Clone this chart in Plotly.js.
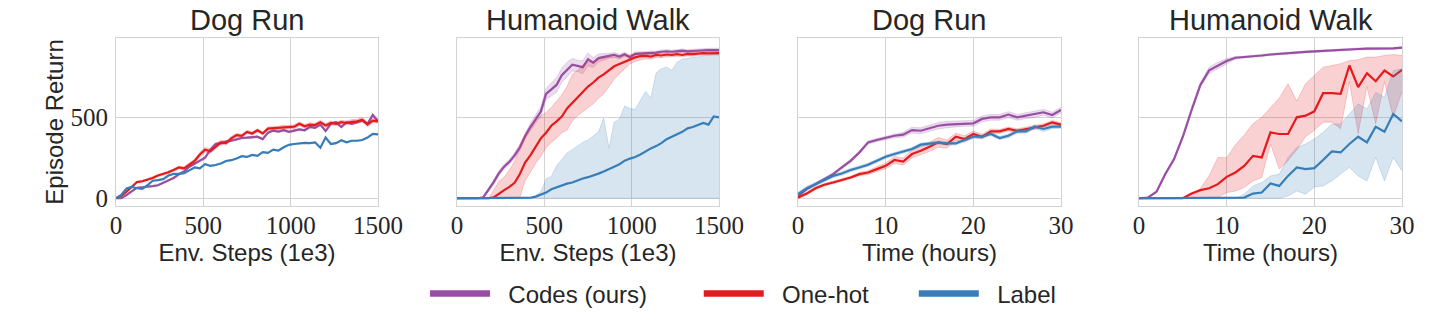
<!DOCTYPE html>
<html><head><meta charset="utf-8">
<script src="https://cdn.plot.ly/plotly-3.0.1.min.js"></script>
<style>html,body{margin:0;padding:0;background:#fff}#chart{width:1446px;height:317px}</style>
</head><body><div id="chart"></div>
<script>
// ---------- categories / axes ----------
const panelTitles = ['Dog Run', 'Humanoid Walk', 'Dog Run', 'Humanoid Walk'];
const xTitles = ['Env. Steps (1e3)', 'Env. Steps (1e3)', 'Time (hours)', 'Time (hours)'];
const seriesNames = ['Codes (ours)', 'One-hot', 'Label'];
const yTickVals = [0, 500];
const stepTicks = [0, 500, 1000, 1500];
const hourTicks = [0, 10, 20, 30];

const steps = [0,30,60,90,120,150,180,210,240,270,300,330,360,390,420,450,480,510,540,570,600,630,660,690,720,750,780,810,840,870,900,930,960,990,1020,1050,1080,1110,1140,1170,1200,1230,1260,1290,1320,1350,1380,1410,1440,1470,1500];
const hours = [0,1,2,3,4,5,6,7,8,9,10,11,12,13,14,15,16,17,18,19,20,21,22,23,24,25,26,27,28,29,30];

// ---------- Panel 1: Dog Run vs env steps ----------
const p1Codes  = [0,0,20,45,65,68,70,75,80,95,110,125,148,165,195,215,235,250,300,335,340,350,355,365,372,374,376,380,365,405,418,412,420,410,418,425,420,440,435,455,415,460,470,440,470,460,470,480,460,515,475];
const p1CodesSd = [0,2,3,3,3,3,3,3,4,4,4,4,4,5,5,6,6,8,8,8,8,8,6,6,6,6,6,6,6,6,6,6,6,6,6,6,6,6,6,6,6,6,6,6,6,6,6,6,6,8,8];
const p1OneHot = [0,15,40,70,100,105,115,125,140,150,160,175,190,185,210,230,270,300,290,320,345,340,370,390,385,410,400,420,400,430,432,435,440,438,442,460,445,455,452,470,450,465,460,470,465,472,475,485,455,480,475];
const p1OneHotSd = [0,3,4,5,5,5,6,6,6,7,8,8,8,10,10,12,14,15,14,14,14,12,12,12,10,10,10,10,10,10,10,10,12,12,12,12,12,12,12,12,12,12,12,12,12,14,14,14,14,12,12];
const p1Label  = [0,20,60,70,62,58,80,108,112,118,140,150,150,155,172,190,185,210,200,205,215,230,235,245,260,255,268,262,285,280,300,295,315,330,335,338,342,340,345,312,375,335,340,358,345,355,355,360,375,398,395];
const p1LabelSd = [0,3,3,3,3,3,3,3,3,3,3,3,3,3,3,3,3,3,3,3,3,3,3,3,3,3,3,3,3,3,3,3,3,3,3,3,3,3,3,3,3,3,3,3,3,3,3,3,3,3,3];

// ---------- Panel 2: Humanoid Walk vs env steps ----------
const p2Codes  = [0,0,0,0,0,5,50,100,155,195,225,265,315,385,440,490,535,645,672,700,760,795,825,818,810,858,838,866,875,880,885,875,890,872,892,893,895,898,900,905,908,905,910,912,908,910,915,918,916,915,915];
const p2CodesSd = [0,0,0,0,0,5,10,15,15,15,15,18,20,20,25,25,30,35,40,45,45,45,40,35,40,40,30,25,20,15,15,15,12,12,12,12,10,10,10,10,10,10,10,10,10,10,10,10,10,12,12];
const p2OneHot = [0,0,0,0,0,0,0,5,30,50,70,95,150,220,265,320,370,405,448,475,505,555,590,620,655,690,715,745,765,790,815,830,845,860,870,878,880,875,885,882,888,885,890,885,892,890,895,897,895,897,897];
const p2OneHotLo = [0,0,0,0,0,0,0,0,0,0,0,0,5,110,160,215,260,312,345,370,405,420,475,510,535,560,583,618,645,690,735,768,800,830,845,855,860,860,870,868,875,872,878,872,880,878,883,885,883,885,885];
const p2OneHotHi = [0,0,0,0,0,0,0,50,105,130,175,230,305,385,430,480,510,530,560,600,640,690,765,790,820,845,835,858,868,872,872,868,880,885,890,893,895,890,897,895,900,898,902,900,905,903,907,908,907,908,908];
const p2Label  = [0,0,0,0,0,0,0,0,0,0,0,0,0,0,3,10,22,35,55,68,78,90,97,112,122,130,140,152,165,178,195,210,232,245,255,270,290,308,322,340,365,382,395,410,432,440,452,465,455,505,500];
const p2LabelLo = [0,0,0,0,0,0,0,0,0,0,0,0,0,0,0,0,0,0,0,0,0,0,0,0,0,0,0,0,0,0,0,0,0,0,0,0,0,0,0,0,0,0,0,0,0,0,0,0,0,0,0];
const p2LabelHi = [0,0,0,0,0,0,0,0,0,0,0,0,0,0,5,15,40,120,135,200,240,280,300,325,345,360,385,410,495,310,470,490,570,555,548,600,660,620,775,800,810,790,840,860,865,872,875,880,885,888,893];

// ---------- Panel 3: Dog Run vs hours ----------
const p3Codes  = [14,56,87,118,149,190,231,283,345,360,372,386,393,421,417,432,448,455,459,463,463,490,500,500,517,500,510,517,531,514,545];
const p3CodesSd = [8,8,8,8,8,8,10,10,10,10,10,12,15,18,18,20,20,20,18,18,18,18,18,18,18,18,18,18,18,18,18];
const p3OneHot = [4,29,62,83,97,112,128,149,159,180,200,236,227,273,293,318,345,335,380,366,397,380,413,413,428,417,428,438,448,469,455];
const p3OneHotSd = [8,8,8,8,8,8,8,10,12,15,18,22,22,25,25,28,30,25,22,20,18,15,15,12,12,12,12,12,12,12,12];
const p3Label  = [25,62,87,112,138,153,174,190,207,231,256,273,289,304,331,339,343,339,339,360,380,380,397,372,386,413,413,442,428,442,442];
const p3LabelSd = [12,12,12,10,10,10,10,10,10,10,10,10,10,10,10,10,10,10,10,10,10,10,10,10,12,12,12,12,15,12,10];

// ---------- Panel 4: Humanoid Walk vs hours ----------
const p4Codes  = [0,4,40,150,242,380,545,700,790,820,848,868,872,875,882,888,893,896,901,904,907,910,917,917,921,922,924,924,924,926,930];
const p4CodesSd = [0,2,5,8,10,12,15,15,20,20,15,8,6,6,6,6,6,6,6,6,6,6,6,6,6,6,6,6,6,6,6];
const p4OneHot = [0,0,0,0,0,0,29,50,62,87,132,159,200,262,252,407,397,397,500,510,537,649,649,645,820,686,773,723,789,752,793];
const p4OneHotLo = [0,0,0,0,0,0,0,0,0,4,35,45,66,107,128,335,180,231,300,380,420,470,470,430,720,400,690,460,720,500,660];
const p4OneHotHi = [0,0,0,0,0,0,20,60,140,252,250,330,390,460,500,560,620,707,600,707,758,810,820,831,851,855,872,872,882,888,882];
const p4Label  = [0,0,0,0,0,0,0,0,0,0,0,0,4,29,35,91,76,138,190,180,186,236,289,283,335,380,345,442,411,521,475];
const p4LabelLo = [0,0,0,0,0,0,0,0,0,0,0,0,0,0,0,0,0,14,45,25,70,76,107,149,190,138,107,252,107,252,169];
const p4LabelHi = [0,0,0,0,0,0,0,0,0,0,0,0,25,76,97,138,149,252,314,335,366,407,459,459,521,583,552,655,624,789,800];

// ---------- styling ----------
const colors = ['#984ea3', '#e41a1c', '#377eb8'];
const rgbs = ['152,78,163', '228,26,28', '55,126,184'];
const textColor = '#262626';
const gridColor = '#d3d3d3';
const sansFont = "'Liberation Sans', Arial, sans-serif";
const serifFont = "'Liberation Serif', 'DejaVu Serif', serif";

const traces = [];
function addSeries(xa, ya, x, mean, lo, hi, k) {
  traces.push({x: x, y: lo, xaxis: xa, yaxis: ya, type: 'scatter', mode: 'lines',
    line: {width: 0.8, color: 'rgba(' + rgbs[k] + ',0.25)'}, showlegend: false, hoverinfo: 'skip'});
  traces.push({x: x, y: hi, xaxis: xa, yaxis: ya, type: 'scatter', mode: 'lines', fill: 'tonexty',
    fillcolor: 'rgba(' + rgbs[k] + ',0.2)',
    line: {width: 0.8, color: 'rgba(' + rgbs[k] + ',0.25)'}, showlegend: false, hoverinfo: 'skip'});
  traces.push({x: x, y: mean, xaxis: xa, yaxis: ya, type: 'scatter', mode: 'lines',
    line: {width: 2.2, color: colors[k]}, name: seriesNames[k], showlegend: false});
}
function sub(a, b) { return a.map((v, i) => v - b[i]); }
function add(a, b) { return a.map((v, i) => v + b[i]); }

addSeries('x', 'y', steps, p1Codes, sub(p1Codes, p1CodesSd), add(p1Codes, p1CodesSd), 0);
addSeries('x', 'y', steps, p1OneHot, sub(p1OneHot, p1OneHotSd), add(p1OneHot, p1OneHotSd), 1);
addSeries('x', 'y', steps, p1Label, sub(p1Label, p1LabelSd), add(p1Label, p1LabelSd), 2);

addSeries('x2', 'y2', steps, p2Codes, sub(p2Codes, p2CodesSd), add(p2Codes, p2CodesSd), 0);
addSeries('x2', 'y2', steps, p2OneHot, p2OneHotLo, p2OneHotHi, 1);
addSeries('x2', 'y2', steps, p2Label, p2LabelLo, p2LabelHi, 2);

addSeries('x3', 'y3', hours, p3Codes, sub(p3Codes, p3CodesSd), add(p3Codes, p3CodesSd), 0);
addSeries('x3', 'y3', hours, p3OneHot, sub(p3OneHot, p3OneHotSd), add(p3OneHot, p3OneHotSd), 1);
addSeries('x3', 'y3', hours, p3Label, sub(p3Label, p3LabelSd), add(p3Label, p3LabelSd), 2);

addSeries('x4', 'y4', hours, p4Codes, sub(p4Codes, p4CodesSd), add(p4Codes, p4CodesSd), 0);
addSeries('x4', 'y4', hours, p4OneHot, p4OneHotLo, p4OneHotHi, 1);
addSeries('x4', 'y4', hours, p4Label, p4LabelLo, p4LabelHi, 2);

// legend entries (thick lines, no data drawn)
const nb = '\u00a0';
const legendPad = [nb.repeat(7), nb.repeat(6), ''];
for (let k = 0; k < 3; k++) {
  traces.push({x: [null], y: [null], xaxis: 'x', yaxis: 'y', type: 'scatter', mode: 'lines',
    line: {width: 6.5, color: colors[k]}, name: nb + nb + seriesNames[k] + legendPad[k],
    showlegend: true, hoverinfo: 'skip'});
}

const W = 1446, H = 317;
const MB = 40;               // bottom margin holds the legend so it never pushes the plots
const PH = H - MB;           // height of the paper area
const py = p => (PH - p) / PH;   // pixel row (from top) -> paper y
const xDomains = [[116, 378], [457, 719], [798, 1061], [1139, 1402]].map(d => [d[0] / W, d[1] / W]);
const yDomain = [py(206), py(38)];

const layout = {
  width: W, height: H,
  margin: {l: 0, r: 0, t: 0, b: MB, pad: 0},
  paper_bgcolor: '#ffffff', plot_bgcolor: '#ffffff',
  font: {family: sansFont, color: textColor},
  showlegend: true,
  legend: {orientation: 'h', x: 425 / W, xanchor: 'left', y: py(316.5), yanchor: 'bottom',
    font: {family: sansFont, size: 24, color: textColor}, itemwidth: 60,
    bgcolor: 'rgba(0,0,0,0)', borderwidth: 0, traceorder: 'normal'},
  annotations: [],
};

for (let i = 0; i < 4; i++) {
  const sfx = i === 0 ? '' : String(i + 1);
  const isSteps = i < 2;
  layout['xaxis' + sfx] = {
    domain: xDomains[i], anchor: 'y' + sfx,
    range: isSteps ? [0, 1500] : [0, 30],
    tickmode: 'array', tickvals: isSteps ? stepTicks : hourTicks,
    ticktext: (isSteps ? stepTicks : hourTicks).map(String),
    showgrid: true, gridcolor: gridColor, gridwidth: 1,
    showline: true, linecolor: gridColor, linewidth: 1, mirror: true,
    zeroline: false, ticks: '', ticklabelstandoff: -3,
    tickfont: {family: serifFont, size: 25, color: textColor},
    title: {text: xTitles[i], font: {family: sansFont, size: 24, color: textColor}, standoff: 6},
    fixedrange: true,
  };
  layout['yaxis' + sfx] = {
    domain: yDomain, anchor: 'x' + sfx,
    range: [-48, 990],
    tickmode: 'array', tickvals: yTickVals, ticktext: yTickVals.map(String),
    showticklabels: i === 0,
    showgrid: true, gridcolor: gridColor, gridwidth: 1,
    showline: true, linecolor: gridColor, linewidth: 1, mirror: true,
    zeroline: false, ticks: '', ticklabelstandoff: 2,
    tickfont: {family: serifFont, size: 25, color: textColor},
    title: i === 0 ? {text: 'Episode Return', font: {family: sansFont, size: 24, color: textColor}, standoff: 0} : {text: ''},
    fixedrange: true,
  };
  layout.annotations.push({
    text: panelTitles[i], xref: 'paper', yref: 'paper',
    x: (xDomains[i][0] + xDomains[i][1]) / 2, y: py(20),
    xanchor: 'center', yanchor: 'middle', showarrow: false,
    font: {family: sansFont, size: 29, color: textColor},
  });
}

Plotly.newPlot('chart', traces, layout, {displayModeBar: false, staticPlot: true});
</script>
</body></html>
